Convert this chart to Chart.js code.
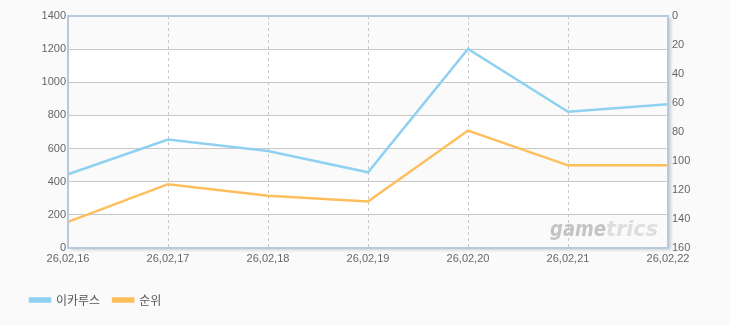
<!DOCTYPE html>
<html>
<head>
<meta charset="utf-8">
<script src="https://cdn.jsdelivr.net/npm/chart.js@4.4.1/dist/chart.umd.min.js"></script>
<style>
  html, body { margin: 0; padding: 0; background: #fafafa; }
  #wrap { position: relative; width: 730px; height: 325px; }
</style>
</head>
<body>
<div id="wrap"><canvas id="chart"></canvas></div>
<script>
// values
const labels = ['26,02,16', '26,02,17', '26,02,18', '26,02,19', '26,02,20', '26,02,21', '26,02,22'];
const icarusValues = [445, 654, 585, 457, 1201, 822, 867];
const rankValues = [142, 116, 124, 128, 79, 103, 103];
const leftTicks = [0, 200, 400, 600, 800, 1000, 1200, 1400];
const rightTicks = [0, 20, 40, 60, 80, 100, 120, 140, 160];

const tickFont = { family: '"Liberation Sans", Arial, sans-serif', size: 11 };
const frameColor = '#b7c9dc';

// alternating row bands under the grid, frame + watermark on top
const plotFrame = {
  id: 'plotFrame',
  beforeDraw(chart) {
    const { ctx, chartArea: a, scales } = chart;
    ctx.save();
    ctx.shadowColor = 'rgba(0,0,0,0.18)';
    ctx.shadowOffsetX = 3;
    ctx.shadowOffsetY = 2;
    ctx.shadowBlur = 3;
    ctx.fillStyle = '#ffffff';
    ctx.fillRect(a.left, a.top, a.right - a.left, a.bottom - a.top);
    ctx.restore();
    ctx.save();
    ctx.fillStyle = '#fafafa';
    const y = scales.y;
    for (let i = leftTicks.length - 1; i > 0; i -= 2) {
      const top = y.getPixelForValue(leftTicks[i]);
      const bot = y.getPixelForValue(leftTicks[i - 1]);
      ctx.fillRect(a.left, top, a.right - a.left, bot - top);
    }
    ctx.restore();
  },
  beforeDatasetsDraw(chart) {
    const { ctx, chartArea: a } = chart;
    ctx.save();
    ctx.font = 'italic bold 22px "DejaVu Sans", sans-serif';
    ctx.textBaseline = 'alphabetic';
    ctx.fillStyle = '#c4c4c4';
    ctx.fillText('game', a.left + 482, a.bottom - 12, 56);
    ctx.fillStyle = '#dedede';
    ctx.fillText('trics', a.left + 538, a.bottom - 12, 52);
    ctx.restore();
  },
  afterDatasetsDraw(chart) {
    const { ctx, chartArea: a } = chart;
    ctx.save();
    ctx.strokeStyle = frameColor;
    ctx.lineWidth = 2;
    ctx.strokeRect(a.left, a.top, a.right - a.left, a.bottom - a.top);
    ctx.restore();
  },
};

new Chart(document.getElementById('chart'), {
  type: 'line',
  data: {
    labels,
    datasets: [
      {
        label: '이카루스',
        data: icarusValues,
        borderColor: '#8fd1f1',
        backgroundColor: '#8fd1f1',
        borderWidth: 2.5,
        pointRadius: 0,
        tension: 0,
        yAxisID: 'y',
      },
      {
        label: '순위',
        data: rankValues,
        borderColor: '#ffbe5c',
        backgroundColor: '#ffbe5c',
        borderWidth: 2.5,
        pointRadius: 0,
        tension: 0,
        yAxisID: 'y1',
      },
    ],
  },
  options: {
    responsive: true,
    maintainAspectRatio: false,
    animation: false,
    layout: { padding: { left: 17, right: 0, top: 16, bottom: 9 } },
    plugins: {
      tooltip: { enabled: false },
      legend: {
        position: 'bottom',
        align: 'start',
        labels: {
          color: '#555',
          boxWidth: 20,
          boxHeight: 3,
          padding: 13,
          font: { family: '"Noto Sans CJK KR", sans-serif', size: 12 },
        },
      },
    },
    scales: {
      x: {
        offset: false,
        ticks: { color: '#666', font: tickFont, padding: 4, maxRotation: 0, autoSkip: false },
        grid: { color: '#c8c8c8', drawTicks: false },
        border: { display: false, dash: [3, 3] },
        afterFit: (s) => { s.height = 33; },
      },
      y: {
        position: 'left',
        min: 0,
        max: 1400,
        afterBuildTicks: (s) => { s.ticks = leftTicks.map((v) => ({ value: v })); },
        ticks: { color: '#666', font: tickFont, padding: 2, callback: (v) => String(v) },
        grid: { color: '#c8c8c8', drawTicks: false },
        border: { display: false },
        afterFit: (s) => { s.width = 51; },
      },
      y1: {
        position: 'right',
        reverse: true,
        min: 0,
        max: 160,
        afterBuildTicks: (s) => { s.ticks = rightTicks.map((v) => ({ value: v })); },
        ticks: { color: '#666', font: tickFont, padding: 4, callback: (v) => String(v) },
        grid: { display: false, drawTicks: false },
        border: { display: false },
        afterFit: (s) => { s.width = 62; },
      },
    },
  },
  plugins: [plotFrame],
});
</script>
</body>
</html>
